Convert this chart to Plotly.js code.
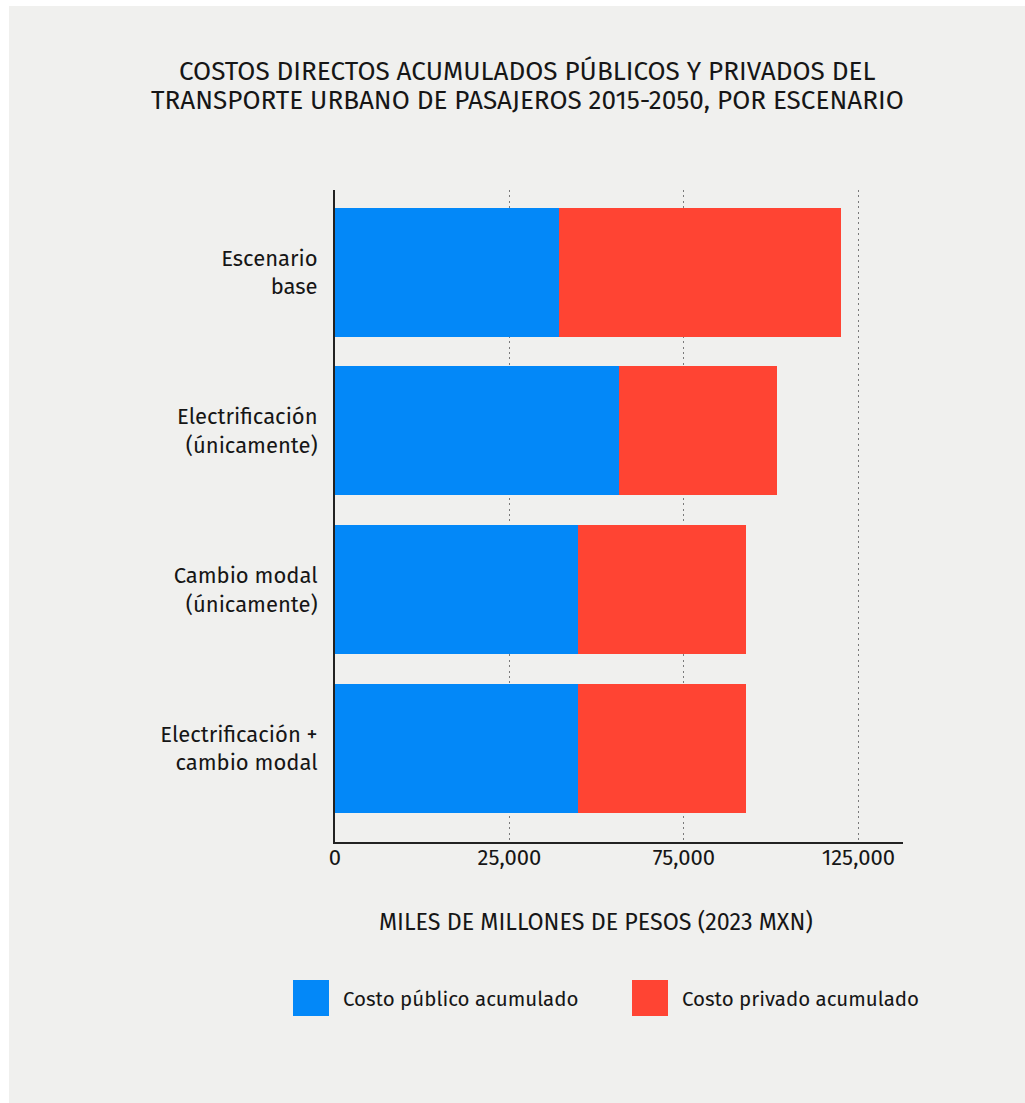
<!DOCTYPE html>
<html>
<head>
<meta charset="utf-8">
<script src="https://cdn.plot.ly/plotly-3.0.1.min.js"></script>
<style>
  html, body { margin: 0; padding: 0; background: #ffffff; }
  #chart { position: absolute; left: 9px; top: 6px; width: 1016px; height: 1097px; }
</style>
</head>
<body>
<div id="chart"></div>
<script>
// Escenarios (de arriba hacia abajo)
const scenarios = [
  "Escenario<br>base",
  "Electrificación<br>(únicamente)",
  "Cambio modal<br>(únicamente)",
  "Electrificación +<br>cambio modal"
];

// Miles de millones de pesos (2023 MXN)
const publicCost = [64200, 81400, 69700, 69700];
const privateCost = [80900, 45300, 48100, 48100];

const seriesNames = ["Costo público acumulado", "Costo privado acumulado"];
const seriesColors = ["#0388f8", "#ff4433"];

const tickValues = [0, 50000, 100000, 150000];
const tickLabels = ["0", "25,000", "75,000", "125,000"];

const titleLines = [
  "COSTOS DIRECTOS ACUMULADOS PÚBLICOS Y PRIVADOS DEL",
  "TRANSPORTE URBANO DE PASAJEROS 2015-2050, POR ESCENARIO"
];
const axisTitle = "MILES DE MILLONES DE PESOS (2023 MXN)";

const FONT = "'Fira Sans', 'Open Sans', sans-serif";
const INK = "#161616";
const BG = "#f0f0ee";

// Plot frame in page pixels
const W = 1016, H = 1097, OX = 9, OY = 6;
const M = { l: 326, r: 122, t: 184, b: 261, pad: 0 };
const plotL = OX + M.l, plotT = OY + M.t;
const plotW = W - M.l - M.r, plotH = H - M.t - M.b;
const px = x => (x - plotL) / plotW;          // page x -> paper x
const py = y => (plotT + plotH - y) / plotH;  // page y -> paper y

const traces = [
  { type: "bar", orientation: "h", name: seriesNames[0], y: scenarios, x: publicCost,
    marker: { color: seriesColors[0] }, hoverinfo: "x+name" },
  { type: "bar", orientation: "h", name: seriesNames[1], y: scenarios, x: privateCost,
    marker: { color: seriesColors[1] }, hoverinfo: "x+name" }
];

const shapes = [];
const annotations = [];

// Title, two centred lines with tight leading
titleLines.forEach((line, i) => {
  annotations.push({
    xref: "paper", yref: "paper", x: px(527.5), y: py(71.5 + i * 29),
    xanchor: "center", yanchor: "middle", showarrow: false,
    text: line, font: { family: FONT, size: 26.1, color: INK }
  });
});

// Legend drawn as large swatches with labels
const legendItems = [
  { sx: 293, tx: 342 },
  { sx: 632, tx: 681 }
];
legendItems.forEach((it, i) => {
  shapes.push({
    type: "rect", xref: "paper", yref: "paper",
    x0: px(it.sx), x1: px(it.sx + 36), y0: py(1016), y1: py(980),
    fillcolor: seriesColors[i], line: { width: 0 }
  });
  annotations.push({
    xref: "paper", yref: "paper", x: px(it.tx - 1), y: py(999),
    xanchor: "left", yanchor: "middle", showarrow: false,
    text: seriesNames[i], font: { family: FONT, size: 20.5, color: INK }
  });
});

// Axis title
annotations.push({
  xref: "paper", yref: "paper", x: px(596), y: py(922),
  xanchor: "center", yanchor: "middle", showarrow: false,
  text: axisTitle, font: { family: FONT, size: 23.3, color: INK }
});

const layout = {
  width: W, height: H,
  margin: M,
  paper_bgcolor: BG, plot_bgcolor: BG,
  barmode: "stack",
  bargap: 0.188,
  showlegend: false,
  font: { family: FONT, color: INK },
  xaxis: {
    range: [0, 162800],
    tickvals: tickValues, ticktext: tickLabels,
    showgrid: true, gridcolor: "#7a7a7a", gridwidth: 1, griddash: "2px,3.4px",
    zeroline: false,
    showline: true, linecolor: "#222", linewidth: 2,
    ticks: "", ticklabelstandoff: -5,
    tickfont: { family: FONT, size: 22, color: INK },
    fixedrange: true
  },
  yaxis: {
    type: "category",
    range: [3.589, -0.517],
    showgrid: false, zeroline: false,
    showline: true, linecolor: "#222", linewidth: 2,
    ticks: "", ticklabelstandoff: 11,
    tickfont: { family: FONT, size: 22, color: INK },
    fixedrange: true
  },
  shapes: shapes,
  annotations: annotations
};

Plotly.newPlot("chart", traces, layout, { displayModeBar: false, staticPlot: true });
</script>
</body>
</html>
